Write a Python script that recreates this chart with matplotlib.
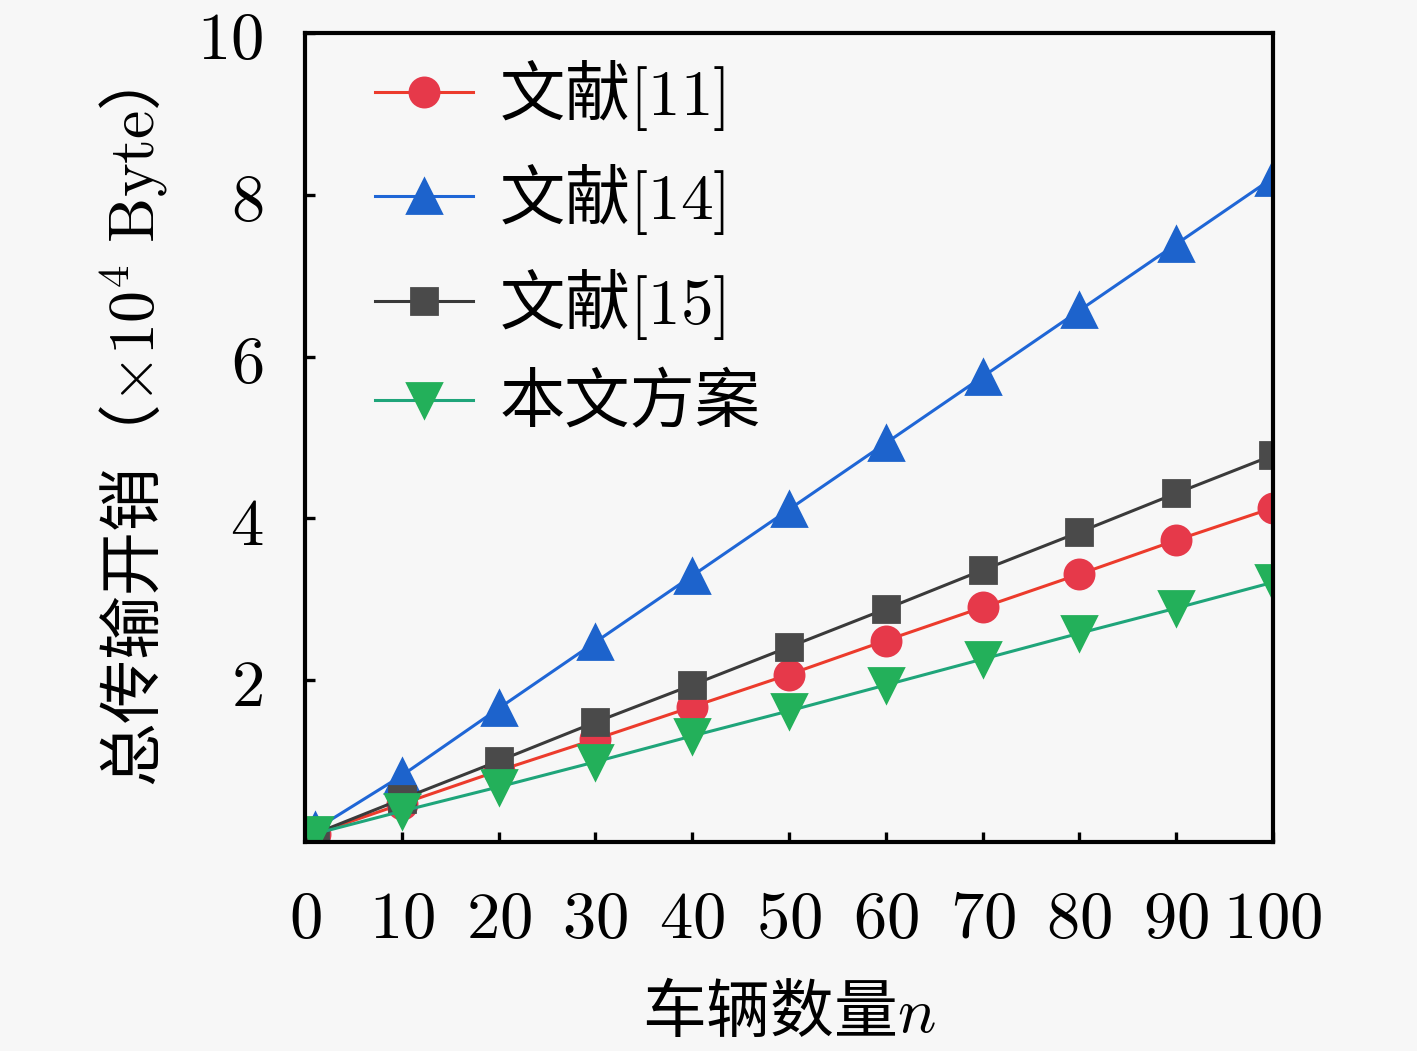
import matplotlib
matplotlib.use("Agg")
import matplotlib.pyplot as plt

plt.rcParams['font.family'] = ['Noto Sans CJK SC', 'DejaVu Sans']
plt.rcParams['mathtext.fontset'] = 'cm'

# data
n = [1, 10, 20, 30, 40, 50, 60, 70, 80, 90, 100]
ref11 = [0.10, 0.47, 0.88, 1.27, 1.67, 2.07, 2.49, 2.90, 3.31, 3.73, 4.13]
ref14 = [0.15, 0.82, 1.65, 2.47, 3.29, 4.11, 4.93, 5.75, 6.57, 7.39, 8.21]
ref15 = [0.10, 0.53, 1.00, 1.48, 1.94, 2.41, 2.88, 3.36, 3.83, 4.31, 4.78]
ours = [0.10, 0.38, 0.68, 0.99, 1.31, 1.62, 1.94, 2.26, 2.58, 2.89, 3.21]

labels = ['文献$[11]$', '文献$[14]$', '文献$[15]$', '本文方案']
xticks = [0, 10, 20, 30, 40, 50, 60, 70, 80, 90, 100]
yticks = [2, 4, 6, 8, 10]

bg = '#f7f7f7'
fig = plt.figure(figsize=(7.085, 5.255), dpi=200, facecolor=bg)
ax = fig.add_axes([0.2152, 0.1989, 0.6832, 0.7697], facecolor=bg)

ax.plot(n, ref11, '-o', color='#ec3b2c', mfc='#e6394a', mec='#e6394a', ms=10.5, lw=1.1, label=labels[0])
ax.plot(n, ref14, '-^', color='#1f66d6', mfc='#1d63cc', mec='#1d63cc', ms=12, lw=1.1, label=labels[1])
ax.plot(n, ref15, '-s', color='#3a3a3a', mfc='#4a4a4a', mec='#4a4a4a', ms=9.5, lw=1.1, label=labels[2])
ax.plot(n, ours, '-v', color='#1fa57a', mfc='#23b05a', mec='#23b05a', ms=12, lw=1.1, label=labels[3])

ax.set_xlim(0, 100)
ax.set_ylim(0, 10)
ax.set_xticks(xticks)
ax.set_xticklabels(['$%d$' % v for v in xticks])
ax.set_yticks(yticks)
ax.set_yticklabels(['$%d$' % v for v in yticks])
ax.tick_params(direction='in', length=3.6, width=1.2, labelsize=24, pad=15,
               top=False, right=False)
ax.tick_params(axis='x', pad=15.5)
for sp in ax.spines.values():
    sp.set_linewidth(1.5)

ax.set_xlabel('车辆数量$n$', fontsize=23, labelpad=10)
ax.set_ylabel('总传输开销（$\\times10^4\\ \\mathrm{Byte}$）', fontsize=23, labelpad=10)

leg = ax.legend(loc='upper left', bbox_to_anchor=(0.005, 1.05), frameon=False,
                fontsize=23.5, handlelength=1.5, handletextpad=0.4,
                labelspacing=0.45, borderaxespad=0.6)

fig.savefig('out.png', dpi=200, facecolor=bg)
